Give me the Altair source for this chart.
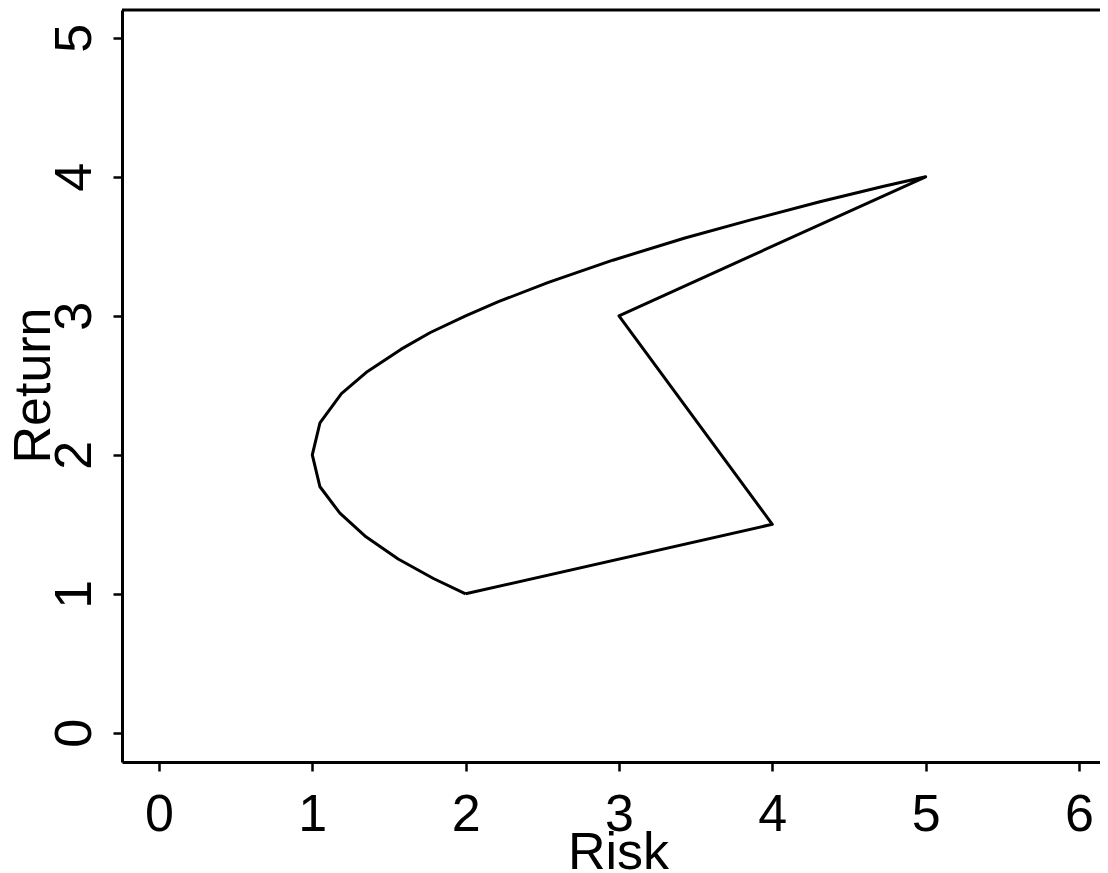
import altair as alt
import pandas as pd

# Closed outline: efficient-frontier curve from (2,1) via (1,2) to (5,4), then back via (3,3) and (4,1.5)
risk = [2.00, 1.79, 1.56, 1.35, 1.18, 1.05, 1.00, 1.05, 1.19, 1.36, 1.58, 1.77,
        2.00, 2.21, 2.54, 2.96, 3.43, 3.86, 4.31, 4.72, 5.00, 3.00, 4.00, 2.00]
ret = [1.00, 1.11, 1.25, 1.41, 1.58, 1.77, 2.00, 2.23, 2.44, 2.60, 2.76, 2.88,
       3.00, 3.10, 3.24, 3.40, 3.56, 3.69, 3.82, 3.93, 4.00, 3.00, 1.50, 1.00]
x_ticks = [0, 1, 2, 3, 4, 5, 6]
y_ticks = [0, 1, 2, 3, 4, 5]

df = pd.DataFrame({"Risk": risk, "Return": ret, "step": list(range(len(risk)))})

W, H = 978, 752
FONT = "Liberation Sans"

line = alt.Chart(df).mark_line(color="black", strokeWidth=3, strokeJoin="round").encode(
    x=alt.X("Risk:Q",
            scale=alt.Scale(domain=[-0.241, 6.137], nice=False, zero=False),
            axis=alt.Axis(values=x_ticks, title="Risk", grid=False,
                          tickSize=9, tickWidth=2.5, tickColor="black",
                          domainColor="black", domainWidth=3,
                          labelFontSize=52, labelFont=FONT, labelColor="black",
                          labelPadding=18, labelFlush=False, labelOverlap=False,
                          titleFontSize=52, titleFont=FONT, titleColor="black",
                          titleFontWeight="normal", titleX=496, titleY=106,
                          titleBaseline="alphabetic", titleAlign="center")),
    y=alt.Y("Return:Q",
            scale=alt.Scale(domain=[-0.21, 5.2], nice=False, zero=False),
            axis=alt.Axis(values=y_ticks, title="Return", grid=False,
                          tickSize=9, tickWidth=2.5, tickColor="black",
                          domainColor="black", domainWidth=3,
                          labelFontSize=52, labelFont=FONT, labelColor="black",
                          labelAngle=270, labelAlign="center", labelBaseline="alphabetic",
                          labelPadding=23, labelFlush=False, labelOverlap=False,
                          titleFontSize=52, titleFont=FONT, titleColor="black",
                          titleFontWeight="normal", titleAngle=270,
                          titleX=-73, titleY=375,
                          titleBaseline="alphabetic", titleAlign="center")),
    order="step:Q",
)

top_rule = alt.Chart(pd.DataFrame({"a": [0]})).mark_rule(color="black", strokeWidth=3).encode(
    x=alt.value(0), x2=alt.value(W), y=alt.value(0)
)

chart = alt.layer(line, top_rule).properties(
    width=W, height=H,
    autosize=alt.AutoSizeParams(type="none"),
    padding={"left": 114, "top": 2, "right": 0, "bottom": 111},
    background="white",
).configure_view(stroke=None)

chart.save("out.html", embed_options={"renderer": "svg", "actions": False})
